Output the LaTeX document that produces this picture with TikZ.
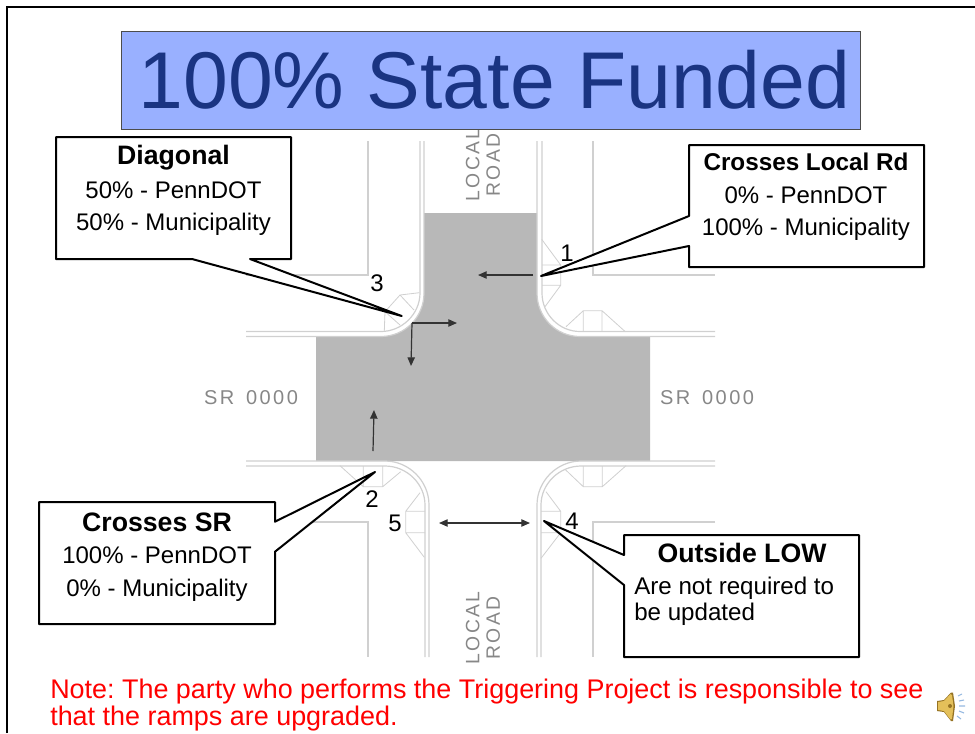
\documentclass[tikz,border=0pt]{standalone}
\usepackage{fontspec}
\setmainfont{Liberation Sans}
\newfontfamily\spacedfont[LetterSpace=12]{Liberation Sans}
\usetikzlibrary{arrows.meta}
\definecolor{roadgray}{RGB}{184,184,184}
\definecolor{linegray}{RGB}{208,208,208}
\definecolor{titleblue}{RGB}{153,176,255}
\definecolor{titleink}{RGB}{26,52,130}
\definecolor{labelgray}{RGB}{135,135,135}
\definecolor{notered}{RGB}{255,0,0}
\definecolor{speakergold}{RGB}{228,192,90}
\definecolor{speakerdark}{RGB}{150,115,35}
\definecolor{speakerblue}{RGB}{150,185,225}
\newcommand{\fs}[2]{\fontsize{#1}{#2}\selectfont}
\tikzset{
  curb/.style={draw=linegray,line width=0.9pt},
  ramp/.style={draw=linegray,line width=0.6pt},
  flow/.style={draw=black!80,line width=0.9pt,-{Triangle[length=6.5pt,width=5.5pt]}},
  flowboth/.style={draw=black!80,line width=0.9pt,{Triangle[length=6.5pt,width=5.5pt]}-{Triangle[length=6.5pt,width=5.5pt]}},
  callout/.style={draw=black,fill=white,line width=1.5pt,line join=round},
  boxtext/.style={align=center,inner sep=0pt,text=black,font=\fs{18}{24}},
  numlabel/.style={inner sep=0pt,font=\fs{18}{20}},
  roadlabel/.style={inner sep=0pt,text=labelgray,font=\spacedfont\fs{15}{15}},
}
\begin{document}
\begin{tikzpicture}[x=0.75pt,y=-0.75pt]
\useasboundingbox (0,0) rectangle (975,733);
\fill[white] (0,0) rectangle (975,733);
\draw[black,line width=1.5pt] (7,733) -- (7,7) -- (975,7);
% pavement
\fill[roadgray] (424,213) -- (537,213) -- (537,293) .. controls (537,317) and (556,336.5) .. (580,336.5) -- (650,336.5) -- (650,461) -- (316,461) -- (316,336.5) -- (381,336.5) .. controls (405,336.5) and (424,317) .. (424,293) -- cycle;
% curbs
\draw[curb] (420,141) -- (420,293) .. controls (420,314) and (402,331.5) .. (381,331.5) -- (246,331.5);
\draw[curb] (424,141) -- (424,293) .. controls (424,317) and (405,336.5) .. (381,336.5) -- (246,336.5);
\draw[curb] (537,141) -- (537,293) .. controls (537,317) and (556,336.5) .. (580,336.5) -- (715,336.5);
\draw[curb] (542,141) -- (542,293) .. controls (542,314) and (559,331.5) .. (580,331.5) -- (715,331.5);
\draw[curb] (246,461) -- (385,461) .. controls (409,461) and (429,481) .. (429,505) -- (429,657);
\draw[curb] (246,466) -- (385,466) .. controls (407,466) and (425,484) .. (425,505) -- (425,657);
\draw[curb] (715,461) -- (581,461) .. controls (557,461) and (537,481) .. (537,505) -- (537,657);
\draw[curb] (715,466) -- (581,466) .. controls (559,466) and (541,484) .. (541,505) -- (541,657);
% sidewalk back lines
\draw[curb] (368,141) -- (368,275) -- (246,275);
\draw[curb] (593,141) -- (593,275) -- (715,275);
\draw[curb] (246,522) -- (368,522) -- (368,657);
\draw[curb] (715,522) -- (593,522) -- (593,657);
% ramps
\draw[ramp] (541.7,239.3) -- (560.7,265) -- (560.7,285.3) -- (545,306.7) (542,265) -- (560.7,265) (542,285.3) -- (560.7,285.3);
\draw[ramp] (566,326.7) -- (583.3,310.7) -- (602,310.7) -- (625.3,331.7) (583.3,310.7) -- (583.3,331.7) (602,310.7) -- (602,331.7);
\draw[ramp] (384.3,331) -- (385,311.7) -- (400,295) -- (419.3,292.7) (400,295) -- (414,310) (385,311.7) -- (400,325);
\draw[ramp] (340,465.7) -- (363.3,486.7) -- (382.7,486.7) -- (400.7,471.7) (363.3,466) -- (363.3,486.7) (382.7,466) -- (382.7,486.7);
\draw[ramp] (420,492.7) -- (405.7,511.3) -- (405.7,532.7) -- (424.3,557.3) (405.7,511.3) -- (425,511.3) (405.7,532.7) -- (425,532.7);
\draw[ramp] (565,469.3) -- (583.3,486.7) -- (602.3,486.7) -- (626,465.7) (583.3,466) -- (583.3,486.7) (602.3,466) -- (602.3,486.7);
\draw[ramp] (546,491.7) -- (560.7,511.3) -- (560.7,532.7) -- (541,558.3) (541,511.3) -- (560.7,511.3) (541,532.7) -- (560.7,532.7);
% road labels
\node[roadlabel] (srwest) at (251,397.5) {SR\hspace{3pt} 0000};
\node[roadlabel] (sreast) at (707,397.5) {SR\hspace{3pt} 0000};
\node[roadlabel,rotate=90,align=center,font=\spacedfont\fs{14.5}{15.5}] (roadnorth) at (483,165) {LOCAL\\ROAD};
\node[roadlabel,rotate=90,align=center,font=\spacedfont\fs{14.5}{15.5}] (roadsouth) at (483,628) {LOCAL\\ROAD};
% movement arrows
\coordinate (a1s) at (533,275); \coordinate (a1e) at (478,275);
\coordinate (a2s) at (373,451); \coordinate (a2e) at (374,410);
\coordinate (a3c) at (412,323); \coordinate (a3e) at (457,323); \coordinate (a3d) at (411,366);
\coordinate (a4s) at (439,523); \coordinate (a4e) at (530,523);
\draw[flow] (a1s) -- (a1e);
\draw[flow] (a2s) -- (a2e);
\draw[flow] (a3c) -- (a3e);
\draw[flow] (a3c) -- (a3d);
\draw[flowboth] (a4s) -- (a4e);
% numbers
\node[numlabel] (n1) at (567,253) {1};
\node[numlabel] (n2) at (372,499) {2};
\node[numlabel] (n3) at (377,283) {3};
\node[numlabel] (n4) at (572,521) {4};
\node[numlabel] (n5) at (395,523) {5};
% callouts
\draw[callout] (56,137) -- (291,137) -- (291,259) -- (250,259) -- (401.7,316) -- (192,259) -- (56,259) -- cycle;
\draw[callout] (689,145) -- (924,145) -- (924,267) -- (689,267) -- (689,246) -- (541,276) -- (689,216) -- cycle;
\draw[callout] (39,502) -- (275,502) -- (275,521.7) -- (375,472) -- (275,551.7) -- (275,624) -- (39,624) -- cycle;
\draw[callout] (624,535) -- (859,535) -- (859,657) -- (624,657) -- (624,585) -- (544,521) -- (624,555) -- cycle;
\node[boxtext] (diag) at (173.5,190.5) {{\bfseries\fs{20}{24}Diagonal}\\[1.2pt]50\% - PennDOT\\[0.5pt]50\% - Municipality};
\node[boxtext] (local) at (806,197) {{\bfseries\fs{18.2}{24}Crosses Local Rd}\\[0.5pt]0\% - PennDOT\\[0.5pt]100\% - Municipality};
\node[boxtext] (sr) at (157,557) {{\bfseries\fs{20}{24}Crosses SR}\\[0.5pt]100\% - PennDOT\\[0.5pt]0\% - Municipality};
\node[boxtext,anchor=north] (low) at (742,543) {{\bfseries\fs{20}{24}Outside LOW}};
\node[boxtext,anchor=west,align=left,font=\fs{18.1}{19.5}] (lowb) at (634,601.5) {Are not required to\\be updated};
% title
\node[draw=black!70,line width=0.5pt,fill=titleblue,text=titleink,minimum width=554pt,minimum height=73.5pt,inner sep=0pt,font=\fs{60.4}{60}] (title) at (490.5,80) {\hspace{6pt}100\% State Funded};
% note
\node[anchor=north west,inner sep=0pt,align=left,text=notered,font=\frenchspacing\fs{20.2}{20.25}] (note) at (50,678.5) {Note: The party who performs the Triggering Project is responsible to see\\that the ramps are upgraded.};
% speaker
\fill[speakerdark] (937,701) -- (944,700) -- (951,692.5) -- (953,692.5) -- (955,706) -- (953,721) -- (951,721) -- (944,712) -- (937,711) -- cycle;
\fill[speakergold] (938,702) -- (944,701) -- (950.5,694) -- (952,695) -- (953.5,706) -- (952,719) -- (950.5,719.5) -- (944,711) -- (938,710) -- cycle;
\fill[speakerdark] (950,706) circle[radius=2];
\draw[speakerblue,line width=0.8pt] (958,696) -- (962,694) (959,701) -- (964,700) (959,706) -- (965,706) (959,711) -- (964,713) (957,716) -- (961,719);
\end{tikzpicture}
\end{document}
